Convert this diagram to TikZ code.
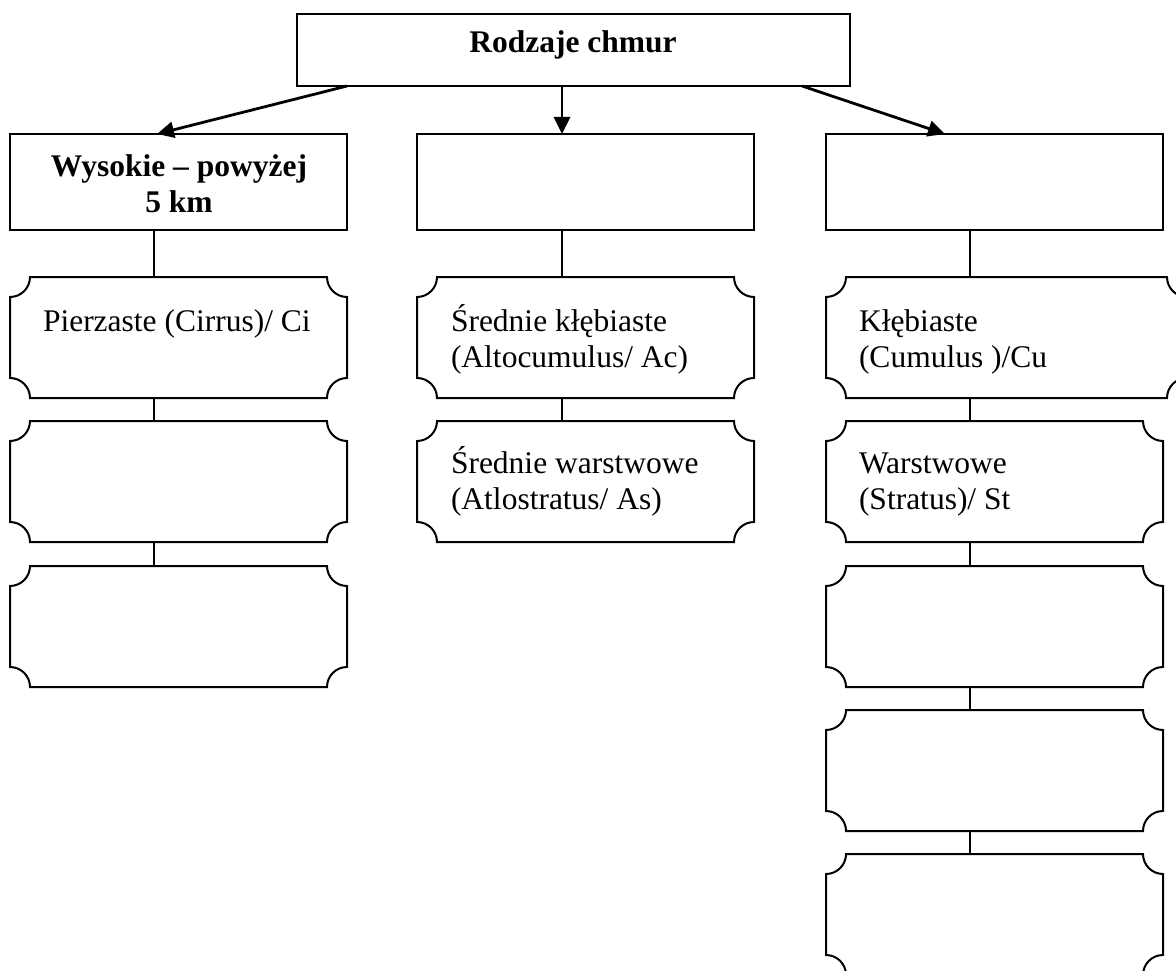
\documentclass[tikz,border=0pt]{standalone}
\usepackage{fontspec}
\setmainfont{Liberation Serif}
\usetikzlibrary{arrows.meta}
\begin{document}
\begin{tikzpicture}[x=1pt,y=1pt,
  box/.style={draw, line width=2pt, minimum width=337pt, minimum height=96pt, outer sep=0pt, inner sep=0pt, anchor=north west},
  plaq/.style={minimum width=337pt, minimum height=121pt, outer sep=0pt, inner sep=0pt, anchor=north west},
  outline/.style={line width=2pt},
  conn/.style={line width=2pt},
  arr/.style={line width=2.8pt, -{Triangle[length=17pt,width=16pt]}},
  lbl/.style={font=\fontsize{31.5pt}{36pt}\selectfont, inner sep=0pt, outer sep=0pt, align=left, anchor=base west},
  hd/.style={font=\fontsize{31.5pt}{36pt}\selectfont\bfseries, inner sep=0pt, outer sep=0pt, align=center, anchor=base}
]
\useasboundingbox (0,0) rectangle (1176,-971);

% header and level-2 boxes
\node[box, minimum width=553pt, minimum height=72pt] (top) at (297,-14) {};
\node[box] (b1) at (10,-134) {};
\node[box] (b2) at (417,-134) {};
\node[box] (b3) at (826,-134) {};

% plaques
\node[plaq] (p11) at (10,-277) {};
\node[plaq] (p12) at (10,-421) {};
\node[plaq] (p13) at (10,-566) {};
\node[plaq] (p21) at (417,-277) {};
\node[plaq] (p22) at (417,-421) {};
\node[plaq, minimum width=361pt] (p31) at (826,-277) {};
\node[plaq] (p32) at (826,-421) {};
\node[plaq] (p33) at (826,-566) {};
\node[plaq] (p34) at (826,-710) {};
\node[plaq] (p35) at (826,-854) {};

\foreach \n in {p11,p12,p13,p21,p22,p31,p32,p33,p34,p35}{
  \draw[outline] ([xshift=20pt]\n.north west) -- ([xshift=-20pt]\n.north east)
    arc[start angle=180,end angle=270,radius=20pt]
    -- ([yshift=20pt]\n.south east)
    arc[start angle=90,end angle=180,radius=20pt]
    -- ([xshift=20pt]\n.south west)
    arc[start angle=0,end angle=90,radius=20pt]
    -- ([yshift=-20pt]\n.north west)
    arc[start angle=270,end angle=360,radius=20pt] -- cycle;
}

% labels (multi-line nodes are placed by the baseline of their last line)
\node[hd] (t0) at (573,-53) {Rodzaje chmur};
\node[hd] (tb1) at (179,-212) {Wysokie – powyżej\\5 km};
\node[lbl] (tp11) at (43,-331) {Pierzaste (Cirrus)/ Ci};
\node[lbl] (tp21) at (451,-367) {Średnie kłębiaste\\(Altocumulus/ Ac)};
\node[lbl] (tp22) at (451,-509) {Średnie warstwowe\\(Atlostratus/ As)};
\node[lbl] (tp31) at (859,-367) {Kłębiaste\\(Cumulus )/Cu};
\node[lbl] (tp32) at (859,-509) {Warstwowe\\(Stratus)/ St};

% arrows
\draw[arr] ([xshift=50pt]top.south west) -- ([xshift=147pt]b1.north west);
\draw[arr] ([xshift=265pt]top.south west) -- ([xshift=145pt]b2.north west);
\draw[arr] ([xshift=-48pt]top.south east) -- ([xshift=119pt]b3.north west);

% vertical connectors
\draw[conn] ([xshift=144pt]b1.south west) -- ([xshift=144pt]p11.north west);
\draw[conn] ([xshift=144pt]p11.south west) -- ([xshift=144pt]p12.north west);
\draw[conn] ([xshift=144pt]p12.south west) -- ([xshift=144pt]p13.north west);
\draw[conn] ([xshift=145pt]b2.south west) -- ([xshift=145pt]p21.north west);
\draw[conn] ([xshift=145pt]p21.south west) -- ([xshift=145pt]p22.north west);
\draw[conn] ([xshift=144pt]b3.south west) -- ([xshift=144pt]p31.north west);
\draw[conn] ([xshift=144pt]p31.south west) -- ([xshift=144pt]p32.north west);
\draw[conn] ([xshift=144pt]p32.south west) -- ([xshift=144pt]p33.north west);
\draw[conn] ([xshift=144pt]p33.south west) -- ([xshift=144pt]p34.north west);
\draw[conn] ([xshift=144pt]p34.south west) -- ([xshift=144pt]p35.north west);
\end{tikzpicture}
\end{document}
